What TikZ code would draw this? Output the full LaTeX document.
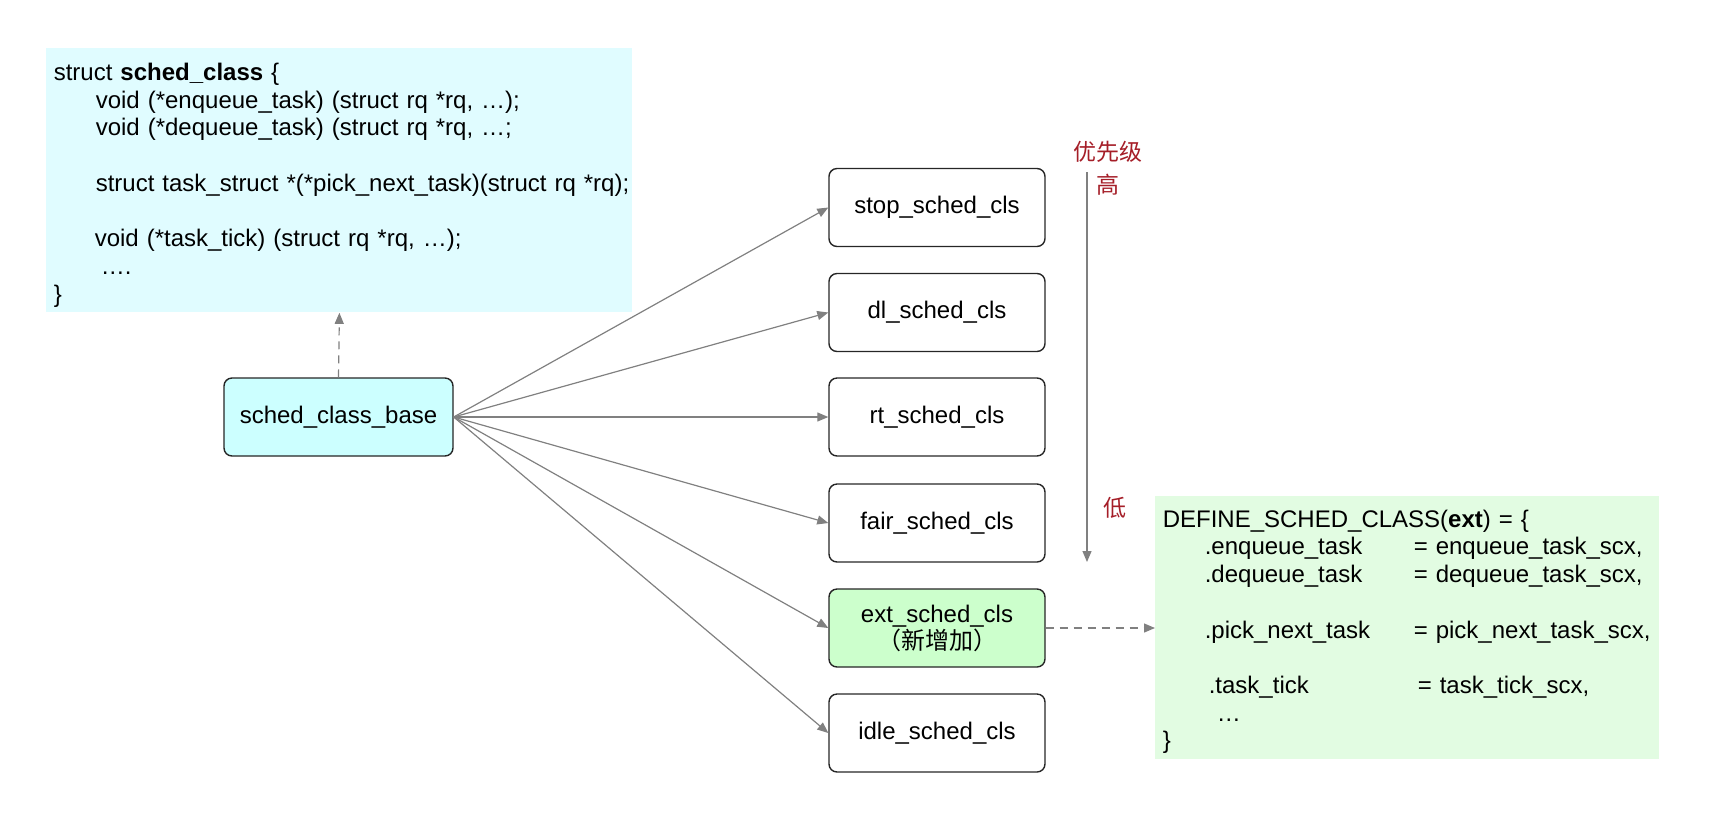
\documentclass[tikz,border=0pt]{standalone}
\usepackage{fontspec}
\setmainfont{Liberation Sans}
\newfontfamily\cjk{Noto Sans CJK SC}
\usetikzlibrary{arrows.meta}
\definecolor{codecyan}{RGB}{224,252,255}
\definecolor{basecyan}{RGB}{204,255,255}
\definecolor{codegreen}{RGB}{226,252,226}
\definecolor{extgreen}{RGB}{204,255,204}
\definecolor{priored}{RGB}{165,30,40}
\definecolor{linkgray}{RGB}{128,128,128}

\begin{document}
\begin{tikzpicture}[x=0.5pt,y=-0.5pt,
        every node/.style={font=\fontsize{12}{13.85}\selectfont},
        cls/.style={draw=black!85,rounded corners=4pt,line width=0.7pt,
            minimum width=108pt,minimum height=39pt,inner sep=0pt,align=center},
        codebox/.style={anchor=north west,align=left,inner xsep=3.7pt,inner ysep=0pt},
        link/.style={draw=linkgray,line width=0.6pt,-{Triangle[length=5.5pt,width=4.5pt]}},
        dep/.style={link,dash pattern=on 4pt off 3pt},
        prio/.style={text=priored,font=\cjk\fontsize{11.5}{13}\selectfont}]
        \useasboundingbox (0,0) rectangle (1720,816);
        % struct on the left
        \node[codebox,fill=codecyan,text width=285.6pt,minimum height=132pt] (classdef) at (46,48) {%
            \rule{0pt}{13.4pt}struct \textbf{sched\_class} \{\\
            \hspace*{21pt}void (*enqueue\_task) (struct rq *rq, …);\\
            \hspace*{21pt}void (*dequeue\_task) (struct rq *rq, …;\\
            \mbox{}\\
            \hspace*{21pt}\mbox{struct task\_struct *(*pick\_next\_task)(struct rq *rq);}\\
            \mbox{}\\
            \hspace*{20.5pt}void (*task\_tick) (struct rq *rq, …);\\
            \hspace*{23.5pt}….\\
            \}};
        \node[cls,fill=basecyan,minimum width=114.5pt] (base) at (338.5,417) {sched\_class\_base};
        \draw[dep] (base.north) -- (classdef.south);
        % the classes
        \node[cls] (stop) at (937,207.5) {stop\_sched\_cls};
        \node[cls] (dl) at (937,312.5) {dl\_sched\_cls};
        \node[cls] (rt) at (937,417) {rt\_sched\_cls};
        \node[cls] (fair) at (937,523) {fair\_sched\_cls};
        \node[cls,fill=extgreen,font=\fontsize{12}{13.5}\selectfont] (ext) at (937,628) {ext\_sched\_cls\\{\cjk （新增加）}};
        \node[cls] (idle) at (937,733) {idle\_sched\_cls};
        \foreach \n in {stop,dl,rt,fair,ext,idle}
            \draw[link] (base.east) -- (\n.west);
        % priority
        \node[prio] (priotitle) at (1108,152) {优先级};
        \node[prio] (priohigh) at (1108,185) {高};
        \node[prio] (priolow) at (1115,508) {低};
        \coordinate (ptop) at (1087,172);
        \coordinate (pbot) at (1087,562);
        \draw[link] (ptop) -- (pbot);
        % ext definition
        \node[codebox,fill=codegreen,text width=244.5pt,minimum height=131.5pt] (extdef) at (1155,496) {%
            \rule{0pt}{12.6pt}DEFINE\_SCHED\_CLASS(\textbf{ext}) = \{\\
            \makebox[125.5pt][l]{\hspace*{21pt}.enqueue\_task}= enqueue\_task\_scx,\\
            \makebox[125.5pt][l]{\hspace*{21pt}.dequeue\_task}= dequeue\_task\_scx,\\
            \mbox{}\\
            \makebox[125.5pt][l]{\hspace*{21pt}.pick\_next\_task}= pick\_next\_task\_scx,\\
            \mbox{}\\
            \makebox[127.5pt][l]{\hspace*{23pt}.task\_tick}= task\_tick\_scx,\\
            \hspace*{27pt}…\\
            \}};
        \draw[dep] (ext.east) -- (ext.east -| extdef.west);
    \end{tikzpicture}
\end{document}
